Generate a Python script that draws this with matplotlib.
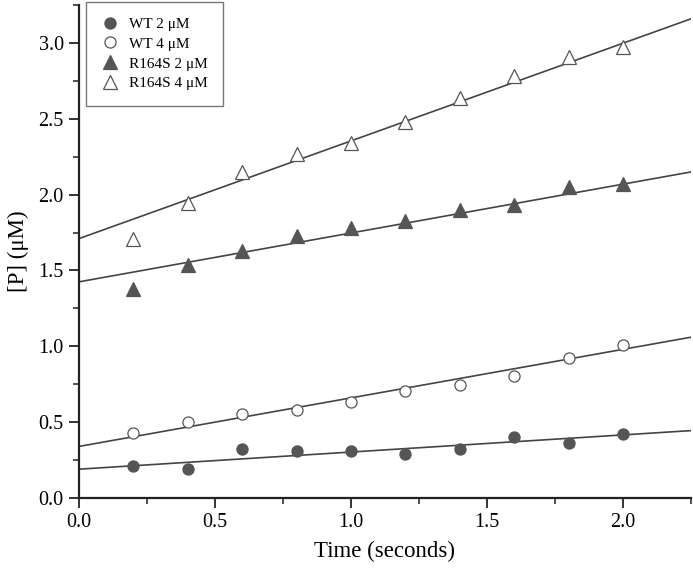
import numpy as np
import matplotlib
matplotlib.use('Agg')
import matplotlib.pyplot as plt
from matplotlib.ticker import MultipleLocator

plt.rcParams['font.family'] = ['Liberation Serif', 'DejaVu Serif']
plt.rcParams['mathtext.fontset'] = 'stix'

#data
time = [0.2, 0.4, 0.6, 0.8, 1.0, 1.2, 1.4, 1.6, 1.8, 2.0]
wt_2 = [0.21, 0.19, 0.325, 0.31, 0.31, 0.29, 0.32, 0.40, 0.365, 0.42]
wt_4 = [0.43, 0.50, 0.556, 0.58, 0.633, 0.705, 0.747, 0.804, 0.923, 1.006]
r164s_2 = [1.38, 1.534, 1.628, 1.727, 1.782, 1.826, 1.898, 1.93, 2.05, 2.07]
r164s_4 = [1.705, 1.943, 2.147, 2.268, 2.34, 2.48, 2.635, 2.78, 2.91, 2.975]

labels = ['WT 2 μM', 'WT 4 μM', 'R164S 2 μM', 'R164S 4 μM']
#fit lines
intercepts = [0.19, 0.34, 1.425, 1.71]
slopes = [0.113, 0.32, 0.322, 0.644]

gray = '#555555'
series = [wt_2, wt_4, r164s_2, r164s_4]
markers = ['o', 'o', '^', '^']
faces = [gray, 'white', gray, 'white']
sizes = [8, 8, 9.5, 9.5]

fig = plt.figure(figsize=(6.93, 5.75), dpi=100)
ax = fig.add_axes([79/693, 77/575, 612/693, 493/575])

xfit = np.array([0.0, 2.25])
for ys, m, fc, ms, lab, b, k in zip(series, markers, faces, sizes, labels, intercepts, slopes):
    ax.plot(xfit, b + k * xfit, color='#444444', lw=1.2, zorder=2)
    ax.plot(time, ys, linestyle='none', marker=m, markersize=ms,
            markerfacecolor=fc, markeredgecolor=gray, markeredgewidth=0.9,
            label=lab, zorder=3)

ax.set_xlim(0, 2.25)
ax.set_ylim(0, 3.25)
ax.xaxis.set_major_locator(MultipleLocator(0.5))
ax.xaxis.set_minor_locator(MultipleLocator(0.25))
ax.yaxis.set_major_locator(MultipleLocator(0.5))
ax.yaxis.set_minor_locator(MultipleLocator(0.25))
ax.xaxis.set_major_formatter(matplotlib.ticker.FormatStrFormatter('%.1f'))
ax.yaxis.set_major_formatter(matplotlib.ticker.FormatStrFormatter('%.1f'))

for s in ['top', 'right']:
    ax.spines[s].set_visible(False)
for s in ['left', 'bottom']:
    ax.spines[s].set_linewidth(1.6)
    ax.spines[s].set_color('#222222')

ax.tick_params(which='major', direction='out', length=7, width=1.3,
               labelsize=14.5, pad=4, color='#222222')
ax.tick_params(which='minor', direction='out', length=4, width=1.1, color='#222222')

ax.set_xlabel('Time (seconds)', fontsize=16.5, labelpad=6)
ax.set_ylabel('[P] (μM)', fontsize=16.5, labelpad=7)

leg = ax.legend(loc='upper left', bbox_to_anchor=(86/693, 1 - 2/575),
                bbox_transform=fig.transFigure, borderaxespad=0,
                fontsize=11, labelspacing=0.4, handletextpad=0.6,
                handlelength=1.2, borderpad=1.0, fancybox=False,
                frameon=True, framealpha=1)
leg.get_frame().set_edgecolor('#777777')
leg.get_frame().set_linewidth(1.0)

fig.savefig('out.png', dpi=100)
